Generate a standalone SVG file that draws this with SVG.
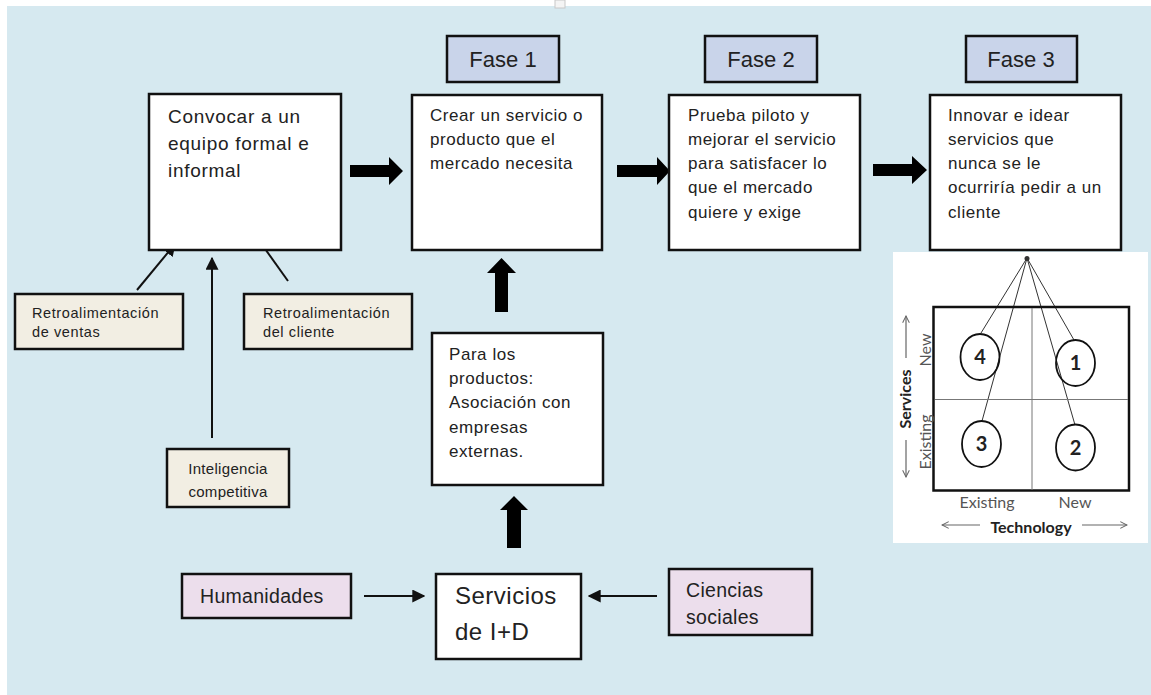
<svg xmlns="http://www.w3.org/2000/svg" width="1151" height="695" viewBox="0 0 1151 695">
<defs>
<style>
.bx{fill:#ffffff;stroke:#111;stroke-width:2.5}
.fase{fill:#c9d4ea;stroke:#111;stroke-width:2.5}
.beige{fill:#f2eee3;stroke:#111;stroke-width:2.5}
.pink{fill:#ecdeec;stroke:#111;stroke-width:2.5}
.t{font-family:"Liberation Sans",Arial,sans-serif;fill:#222}
.m{font-family:Lato,"Open Sans",sans-serif}
.thin{stroke:#111;stroke-width:2;fill:none}
.big{fill:#000}
.ml{stroke:#333;stroke-width:1;fill:none}
.ax{stroke:#666;stroke-width:1.2;fill:none}
</style>
<marker id="ah" viewBox="0 0 10 10" refX="9" refY="5" markerWidth="6.5" markerHeight="6.5" orient="auto" markerUnits="strokeWidth">
<path d="M0,0 L10,5 L0,10 z" fill="#111"/>
</marker>
<marker id="oa" viewBox="0 0 10 10" refX="9" refY="5" markerWidth="7" markerHeight="7" orient="auto" markerUnits="strokeWidth">
<path d="M1,1 L9,5 L1,9" fill="none" stroke="#666" stroke-width="1.2"/>
</marker>
</defs>
<rect x="0" y="0" width="1151" height="695" fill="#ffffff"/>
<rect x="7" y="6" width="1144" height="689" fill="#d6e9f0"/>
<rect x="555" y="0" width="10" height="8" fill="#f4f4f4" stroke="#c8c8c8" stroke-width="1"/>

<g id="connectors">
<polygon class="big" points="350,165 389,165 389,157 403,171 389,185 389,177 350,177"/>
<polygon class="big" points="617,165 657,165 657,157 670,171 657,185 657,177 617,177"/>
<polygon class="big" points="873,164 912,164 912,156 927,170 912,184 912,176 873,176"/>
<polygon class="big" points="495,312 495,273 487,273 501.5,258 516,273 508,273 508,312"/>
<polygon class="big" points="507,548 507,510 500,510 514,496 528,510 521,510 521,548"/>
<line class="thin" x1="137" y1="290" x2="175" y2="244" marker-end="url(#ah)"/>
<line class="thin" x1="212" y1="438" x2="212" y2="258" marker-end="url(#ah)"/>
<line class="thin" x1="288" y1="281" x2="253" y2="232" marker-end="url(#ah)"/>
<line class="thin" x1="364" y1="596" x2="424" y2="596" marker-end="url(#ah)"/>
<line class="thin" x1="657" y1="596" x2="589" y2="596" marker-end="url(#ah)"/>
</g>

<g id="fase1"><rect class="fase" x="447" y="36" width="112" height="46"/><text class="t" x="503" y="67" font-size="22" text-anchor="middle">Fase 1</text></g>
<g id="fase2"><rect class="fase" x="705" y="36" width="112" height="46"/><text class="t" x="761" y="67" font-size="22" text-anchor="middle">Fase 2</text></g>
<g id="fase3"><rect class="fase" x="966" y="36" width="111" height="46"/><text class="t" x="1021" y="67" font-size="22" text-anchor="middle">Fase 3</text></g>

<g id="convocar"><rect class="bx" x="149" y="94" width="192" height="156"/>
<text class="t" font-size="19" letter-spacing="0.7"><tspan x="168" y="123">Convocar a un</tspan><tspan x="168" y="150">equipo formal e</tspan><tspan x="168" y="177">informal</tspan></text></g>

<g id="crear"><rect class="bx" x="412" y="95" width="190" height="155"/>
<text class="t" font-size="17" letter-spacing="0.55"><tspan x="430" y="121">Crear un servicio o</tspan><tspan x="430" y="145">producto que el</tspan><tspan x="430" y="169">mercado necesita</tspan></text></g>

<g id="prueba"><rect class="bx" x="669" y="95" width="191" height="155"/>
<text class="t" font-size="17" letter-spacing="0.55"><tspan x="688" y="121">Prueba piloto y</tspan><tspan x="688" y="145">mejorar  el servicio</tspan><tspan x="688" y="169">para satisfacer lo</tspan><tspan x="688" y="193">que el mercado</tspan><tspan x="688" y="218">quiere y exige</tspan></text></g>

<g id="innovar"><rect class="bx" x="930" y="95" width="191" height="155"/>
<text class="t" font-size="17" letter-spacing="0.55"><tspan x="948" y="121">Innovar e idear</tspan><tspan x="948" y="145">servicios que</tspan><tspan x="948" y="169">nunca se le</tspan><tspan x="948" y="193">ocurriría pedir a un</tspan><tspan x="948" y="218">cliente</tspan></text></g>

<g id="retro-ventas"><rect class="beige" x="15" y="294" width="168" height="55"/>
<text class="t" font-size="14.5" letter-spacing="0.6"><tspan x="32" y="318">Retroalimentación</tspan><tspan x="32" y="337">de ventas</tspan></text></g>

<g id="retro-cliente"><rect class="beige" x="244" y="294" width="168" height="55"/>
<text class="t" font-size="14.5" letter-spacing="0.6"><tspan x="263" y="318">Retroalimentación</tspan><tspan x="263" y="337">del cliente</tspan></text></g>

<g id="inteligencia"><rect class="beige" x="167" y="449" width="122" height="58"/>
<text class="t" font-size="15" letter-spacing="0.3" text-anchor="middle"><tspan x="228" y="474">Inteligencia</tspan><tspan x="228" y="497">competitiva</tspan></text></g>

<g id="para"><rect class="bx" x="432" y="333" width="171" height="152"/>
<text class="t" font-size="17" letter-spacing="0.55"><tspan x="449" y="360">Para los</tspan><tspan x="449" y="384">productos:</tspan><tspan x="449" y="408">Asociación con</tspan><tspan x="449" y="433">empresas</tspan><tspan x="449" y="457">externas.</tspan></text></g>

<g id="servicios"><rect class="bx" x="436" y="574" width="145" height="85"/>
<text class="t" font-size="24" letter-spacing="0.5"><tspan x="455" y="604">Servicios</tspan><tspan x="455" y="640">de I+D</tspan></text></g>

<g id="humanidades"><rect class="pink" x="182" y="574" width="169" height="44"/>
<text class="t" x="200" y="603" font-size="19.5" letter-spacing="0.3">Humanidades</text></g>

<g id="ciencias"><rect class="pink" x="669" y="569" width="143" height="66"/>
<text class="t" font-size="19.5" letter-spacing="0.3"><tspan x="686" y="597">Ciencias</tspan><tspan x="686" y="624">sociales</tspan></text></g>

<g id="matriz">
<rect x="893" y="252" width="255" height="291" fill="#ffffff"/>
<circle cx="1027" cy="258.5" r="2.5" fill="#333"/>
<line class="ml" x1="1027" y1="258" x2="981" y2="333"/>
<line class="ml" x1="1027" y1="258" x2="982" y2="421"/>
<line class="ml" x1="1027" y1="258" x2="1074" y2="340"/>
<line class="ml" x1="1027" y1="258" x2="1075" y2="425"/>
<rect x="933.5" y="307" width="195.5" height="183.5" fill="none" stroke="#111" stroke-width="2.5"/>
<line x1="1032" y1="308" x2="1032" y2="490" stroke="#777" stroke-width="1"/>
<line x1="935" y1="399.5" x2="1128" y2="399.5" stroke="#777" stroke-width="1"/>
<ellipse cx="980" cy="357" rx="19.5" ry="23" fill="none" stroke="#111" stroke-width="1.8"/>
<ellipse cx="1075.5" cy="363" rx="19.5" ry="23" fill="none" stroke="#111" stroke-width="1.8"/>
<ellipse cx="981.5" cy="444" rx="19.5" ry="23" fill="none" stroke="#111" stroke-width="1.8"/>
<ellipse cx="1075.5" cy="447.5" rx="19.5" ry="23" fill="none" stroke="#111" stroke-width="1.8"/>
<g class="m" font-size="20" font-weight="bold" fill="#222" text-anchor="middle">
<text x="980" y="364">4</text><text x="1075.5" y="370">1</text><text x="981.5" y="451">3</text><text x="1075.5" y="455">2</text>
</g>
<g class="m" font-size="16" fill="#555">
<text x="987" y="508" text-anchor="middle">Existing</text>
<text x="1075" y="508" text-anchor="middle">New</text>
<text transform="translate(931,350) rotate(-90)" text-anchor="middle">New</text>
<text transform="translate(931,442) rotate(-90)" text-anchor="middle">Existing</text>
</g>
<text class="m" x="1031" y="533" font-size="16" font-weight="bold" fill="#222" text-anchor="middle">Technology</text>
<text class="m" transform="translate(911,399) rotate(-90)" font-size="16" font-weight="bold" fill="#222" text-anchor="middle">Services</text>
<line class="ax" x1="980" y1="525" x2="942" y2="525" marker-end="url(#oa)"/>
<line class="ax" x1="1082" y1="525" x2="1127" y2="525" marker-end="url(#oa)"/>
<line class="ax" x1="906" y1="358" x2="906" y2="316" marker-end="url(#oa)"/>
<line class="ax" x1="906" y1="440" x2="906" y2="477" marker-end="url(#oa)"/>
</g>
</svg>
